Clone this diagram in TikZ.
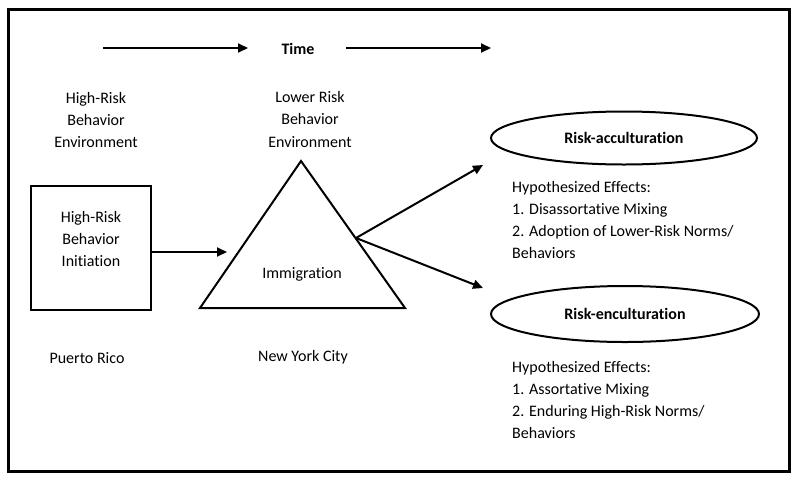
\documentclass[tikz,border=0pt]{standalone}
\usepackage{fontspec}
\setmainfont{Carlito}[Ligatures=NoCommon]
\usetikzlibrary{arrows.meta,shapes.geometric}
\begin{document}
\begin{tikzpicture}[x=1pt,y=-1pt,
  txt/.style={align=center,inner sep=0pt,font=\fontsize{16}{22}\selectfont},
  ltxt/.style={align=left,inner sep=0pt,anchor=west,font=\fontsize{16}{22}\selectfont},
  btxt/.style={inner sep=0pt,font=\fontsize{16}{22}\selectfont\bfseries},
  shp/.style={draw=black,line width=2pt},
  arr/.style={draw=black,line width=2pt,-{Triangle[length=10pt,width=9pt]}},
  ell/.style={shp,ellipse,inner sep=0pt}]
\useasboundingbox (0,0) rectangle (799,482);
\draw[line width=3pt] (8,9) rectangle (789,471);
% time
\node[btxt] (time) at (298,49) {Time};
\coordinate (t1s) at (103,48); \coordinate (t1e) at (248,48);
\coordinate (t2s) at (346,48); \coordinate (t2e) at (491,48);
\draw[arr] (t1s) -- (t1e);
\draw[arr] (t2s) -- (t2e);
% environments
\node[txt] (hrbe) at (96,120.5) {High-Risk\\Behavior\\Environment};
\node[txt] (lrbe) at (310,119.5) {Lower Risk\\Behavior\\Environment};
% box
\node[shp,minimum width=120pt,minimum height=124pt,inner sep=0pt] (init) at (91,248) {};
\node[txt] (inittxt) at (91,239) {High-Risk\\Behavior\\Initiation};
% triangle
\coordinate (apex) at (301,161);
\coordinate (bl) at (200,308);
\coordinate (br) at (405,308);
\draw[shp,line join=miter] (apex) -- (bl) -- (br) -- cycle;
\node[txt] (imm) at (302,274) {Immigration};
\coordinate (immin) at (227,252);
\draw[arr] (init.east |- immin) -- (immin);
% ellipses
\node[ell,minimum width=266pt,minimum height=53pt] (acc) at (624,138) {};
\node[btxt] (acctxt) at (624,138) {Risk-acculturation};
\node[ell,minimum width=268pt,minimum height=56pt] (enc) at (625,314) {};
\node[btxt] (enctxt) at (625,314) {Risk-enculturation};
\coordinate (split) at (356,238);
\coordinate (accin) at (483,165);
\coordinate (encin) at (483,288);
\draw[arr] (split) -- (accin);
\draw[arr] (split) -- (encin);
% effects
\node[ltxt] (eff1) at (512,220) {Hypothesized Effects:\\1. Disassortative Mixing\\2. Adoption of Lower-Risk Norms/\\Behaviors};
\node[ltxt] (eff2) at (512,399.5) {Hypothesized Effects:\\1. Assortative Mixing\\2. Enduring High-Risk Norms/\\Behaviors};
% places
\node[txt] (pr) at (87,358) {Puerto Rico};
\node[txt] (nyc) at (303,357) {New York City};
\end{tikzpicture}
\end{document}
